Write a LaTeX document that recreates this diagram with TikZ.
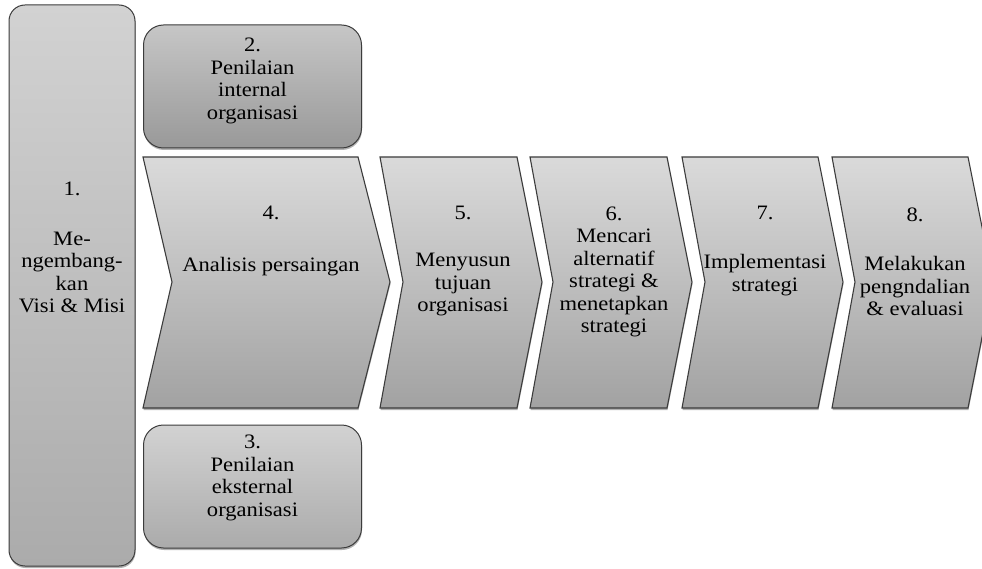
\documentclass[tikz,border=0pt]{standalone}
\usepackage{fontspec}
\setmainfont{Liberation Serif}[FakeStretch=1.1]
\usetikzlibrary{shadows}
\definecolor{edge}{HTML}{3C3C3C}
\definecolor{shadetop}{HTML}{DADADA}
\definecolor{shadebot}{HTML}{A2A2A2}
\definecolor{boxtop}{HTML}{D2D2D2}
\definecolor{boxbot}{HTML}{ABABAB}
\definecolor{darktop}{HTML}{C6C6C6}
\definecolor{darkbot}{HTML}{999999}
\begin{document}
\begin{tikzpicture}[x=1pt,y=-1pt,
  soft/.style={drop shadow={shadow xshift=0.5pt,shadow yshift=-2pt,opacity=0.3,fill=black}},
  panel/.style={draw=edge,line width=1pt,top color=boxtop,bottom color=boxbot,soft,inner sep=0pt},
  darkpanel/.style={panel,top color=darktop,bottom color=darkbot},
  chevron/.style={draw=edge,line width=1.1pt,line join=miter,top color=shadetop,bottom color=shadebot,soft},
  label/.style={align=center,font=\fontsize{20.5}{22.5}\selectfont,inner sep=0pt,text=black}]
\useasboundingbox (0,0) rectangle (982,569);
\clip (0,0) rectangle (982,569);

% left column: mission and vision
\node[panel,rounded corners=16pt,minimum width=126pt,minimum height=561pt] (visi) at (72,285.5) {};
\node[label] (visitext) at (72,247.5) {1.\\[27pt]Me-\\ngembang-\\kan\\Visi \& Misi};

% internal and external assessment
\node[darkpanel,rounded corners=20pt,minimum width=218pt,minimum height=123pt] (internal) at (252.5,86.5) {};
\node[label] (internaltext) at (252.5,81) {2.\\Penilaian\\internal\\organisasi};
\node[panel,rounded corners=20pt,minimum width=218pt,minimum height=123pt] (eksternal) at (252.5,486.5) {};
\node[label] (eksternaltext) at (252.5,478) {3.\\Penilaian\\eksternal\\organisasi};

% process chevrons
\draw[chevron] (143,157) -- (358,157) -- (390,282) -- (358,408) -- (143,408) -- (172,282) -- cycle;
\node[label] (analisis) at (271,241) {4.\\[30pt]Analisis persaingan};

\draw[chevron] (380,157) -- (517,157) -- (542,282) -- (517,408) -- (380,408) -- (403,282) -- cycle;
\node[label] (tujuan) at (463,261) {5.\\[25pt]Menyusun\\tujuan\\organisasi};

\draw[chevron] (530,157) -- (667,157) -- (692,282) -- (667,408) -- (530,408) -- (553,282) -- cycle;
\node[label] (alternatif) at (614,272) {6.\\Mencari\\alternatif\\strategi \&\\menetapkan\\strategi};

\draw[chevron] (682,157) -- (818,157) -- (843,282) -- (818,408) -- (682,408) -- (705,282) -- cycle;
\node[label] (implementasi) at (765,251) {7.\\[27pt]Implementasi\\strategi};

\draw[chevron] (832,157) -- (968,157) -- (993,282) -- (968,408) -- (832,408) -- (855,282) -- cycle;
\node[label] (evaluasi) at (915,262) {8.\\[27pt]Melakukan\\pengndalian\\\& evaluasi};
\end{tikzpicture}
\end{document}
